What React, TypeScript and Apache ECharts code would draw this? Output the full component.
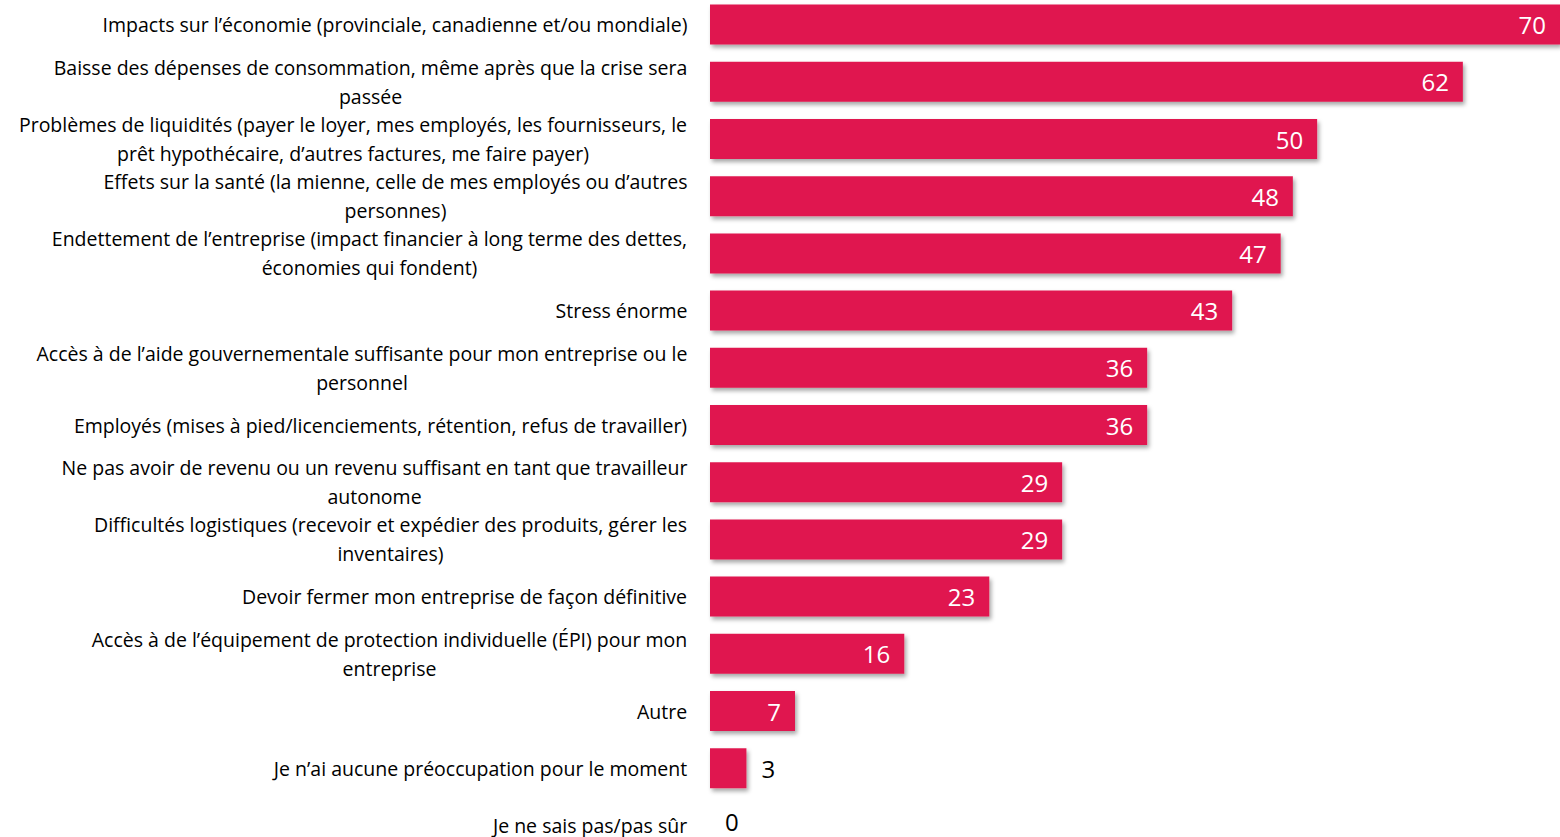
import React, { useEffect, useRef } from "react";
import * as echarts from "echarts";

const categories: string[] = [
  "Impacts sur l’économie (provinciale, canadienne et/ou mondiale)",
  "Baisse des dépenses de consommation, même après que la crise sera\npassée",
  "Problèmes de liquidités (payer le loyer, mes employés, les fournisseurs, le\nprêt hypothécaire, d’autres factures, me faire payer)",
  "Effets sur la santé (la mienne, celle de mes employés ou d’autres\npersonnes)",
  "Endettement de l’entreprise (impact financier à long terme des dettes,\néconomies qui fondent)",
  "Stress énorme",
  "Accès à de l’aide gouvernementale suffisante pour mon entreprise ou le\npersonnel",
  "Employés (mises à pied/licenciements, rétention, refus de travailler)",
  "Ne pas avoir de revenu ou un revenu suffisant en tant que travailleur\nautonome",
  "Difficultés logistiques (recevoir et expédier des produits, gérer les\ninventaires)",
  "Devoir fermer mon entreprise de façon définitive",
  "Accès à de l’équipement de protection individuelle (ÉPI) pour mon\nentreprise",
  "Autre",
  "Je n’ai aucune préoccupation pour le moment",
  "Je ne sais pas/pas sûr",
];

const values: number[] = [70, 62, 50, 48, 47, 43, 36, 36, 29, 29, 23, 16, 7, 3, 0];

const FONT = "'Open Sans', 'Noto Sans', sans-serif";
const LABEL_SIZE = 19.5;

export default function App() {
  const ref = useRef<HTMLDivElement>(null);
  useEffect(() => {
    document.body.style.margin = "0";
    document.body.style.overflow = "hidden";
    if (!ref.current) return;
    const chart = echarts.init(ref.current, undefined, { renderer: "svg" });

    const canvas = document.createElement("canvas");
    const ctx = canvas.getContext("2d")!;
    ctx.font = `${LABEL_SIZE}px ${FONT}`;
    const rich: Record<string, any> = {};
    categories.forEach((c, i) => {
      const w = Math.max(...c.split("\n").map((l) => ctx.measureText(l).width));
      rich["c" + i] = {
        width: Math.ceil(w) + 1,
        align: "center",
        fontSize: LABEL_SIZE,
        fontFamily: FONT,
        lineHeight: i === categories.length - 1 ? 20 : 29,
        color: "#000",
      };
    });

    const data = values.map((v, i) => {
      const small = v < 5;
      const last = i === values.length - 1;
      return {
        value: v,
        label: small
          ? {
              position: "right",
              color: "#000",
              distance: 15,
              lineHeight: 18,
              offset: last ? [0, -4] : [0, 0],
            }
          : { position: "insideRight", color: "#fff", distance: 14 },
      };
    });
    chart.setOption({
      animation: false,
      grid: { left: 710, right: 0, top: 0, height: 858 },
      xAxis: { type: "value", min: 0, max: 70, show: false, splitLine: { show: false } },
      yAxis: {
        type: "category",
        inverse: true,
        data: categories,
        axisLine: { show: false },
        axisTick: { show: false },
        axisLabel: {
          color: "#000",
          fontSize: LABEL_SIZE,
          fontFamily: FONT,
          margin: 22,
          lineHeight: 29,
          align: "right",
          rich,
          formatter: (value: string, index: number) =>
            value
              .split("\n")
              .map((l) => `{c${index}|${l}}`)
              .join("\n"),
        },
      },
      series: [
        {
          type: "bar",
          data,
          barWidth: 40,
          itemStyle: {
            color: "#E0194F",
            shadowColor: "rgba(0,0,0,0.35)",
            shadowBlur: 4,
            shadowOffsetX: 2,
            shadowOffsetY: 3,
          },
          label: {
            show: true,
            fontSize: 24,
            fontFamily: FONT,
          },
        },
      ],
    });
    return () => chart.dispose();
  }, []);
  return <div ref={ref} style={{ width: 1560, height: 862, marginTop: -4 }} />;
}
